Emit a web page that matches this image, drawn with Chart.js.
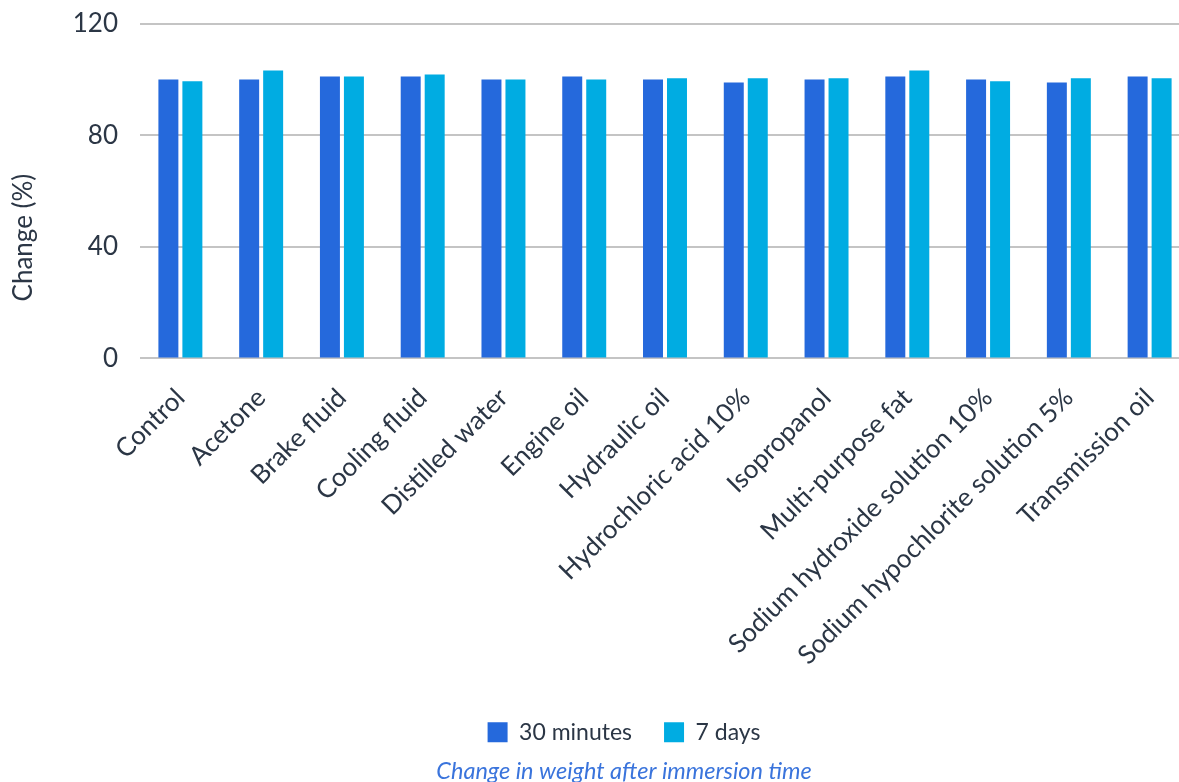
<!DOCTYPE html>
<html>
<head>
<meta charset="utf-8">
<script src="https://cdn.jsdelivr.net/npm/chart.js@4.4.1/dist/chart.umd.min.js"></script>
<style>
  html, body { margin: 0; padding: 0; background: #fff; overflow: hidden; }
  #wrap { width: 1179px; height: 782px; overflow: hidden; }
  #wrap canvas { display: block; }
</style>
</head>
<body>
<div id="wrap"><canvas id="chart" width="1248" height="782" style="width:1248px;height:782px"></canvas></div>
<script>
// media tested
const categories = [
  "Control", "Acetone", "Brake fluid", "Cooling fluid", "Distilled water",
  "Engine oil", "Hydraulic oil", "Hydrochloric acid 10%", "Isopropanol",
  "Multi-purpose fat", "Sodium hydroxide solution 10%",
  "Sodium hypochlorite solution 5%", "Transmission oil"
];

// weight change in %
const after30min = [100, 100, 101, 101, 100, 101, 100, 98.9, 100, 101, 100, 98.9, 101];
const after7days = [99.3, 103.2, 101, 101.8, 100, 100, 100.4, 100.4, 100.4, 103.2, 99.3, 100.4, 100.4];

const yTicks = [0, 40, 80, 120];

const textColor = "#2b3645";
const fontFamily = "Lato, 'Noto Sans', sans-serif";

new Chart(document.getElementById("chart"), {
  type: "bar",
  data: {
    labels: categories,
    datasets: [
      { label: "30 minutes", data: after30min, backgroundColor: "#2569dc",
        barPercentage: 0.833, categoryPercentage: 0.594 },
      { label: "7 days", data: after7days, backgroundColor: "#00ace2",
        barPercentage: 0.833, categoryPercentage: 0.594 }
    ]
  },
  options: {
    responsive: false,
    animation: false,
    layout: { padding: { top: 2, right: 0, bottom: 0, left: 0 } },
    scales: {
      x: {
        grid: { display: false },
        border: { display: false },
        afterFit: (axis) => { axis.height += 2; },
        ticks: {
          color: textColor,
          font: { family: fontFamily, size: 26 },
          minRotation: 45, maxRotation: 45,
          autoSkip: false, padding: 16
        }
      },
      y: {
        min: 0, max: 120,
        afterBuildTicks: (axis) => { axis.ticks = yTicks.map(v => ({ value: v })); },
        afterFit: (axis) => { axis.width = 140; },
        grid: { color: "#c4c4c4", lineWidth: 2, drawTicks: true, tickLength: 14, tickColor: "rgba(0,0,0,0)" },
        border: { display: false },
        ticks: {
          color: textColor,
          font: { family: fontFamily, size: 26 },
          padding: 8
        },
        title: {
          display: true,
          // trailing spaces push the label a bit lower, as in the original
          text: "Change (%)" + " ".repeat(14),
          color: textColor,
          font: { family: fontFamily, size: 26 },
          padding: { top: 8, bottom: 4 }
        }
      },
      // empty strip on the right so the plot runs past the window edge
      yRight: {
        position: "right",
        afterFit: (axis) => { axis.width = 58; },
        grid: { display: false, drawTicks: false },
        border: { display: false },
        ticks: { display: false }
      }
    },
    plugins: {
      legend: {
        position: "bottom",
        labels: {
          color: textColor,
          font: { family: fontFamily, size: 23 },
          boxWidth: 20, boxHeight: 20,
          padding: 32
        }
      },
      title: {
        display: true,
        position: "bottom",
        text: "Change in weight after immersion time",
        color: "#3a74dc",
        font: { family: fontFamily, size: 23.5, style: "italic", weight: "normal" },
        padding: { top: 4, bottom: -4 }
      },
      tooltip: { enabled: false }
    }
  }
});
</script>
</body>
</html>
